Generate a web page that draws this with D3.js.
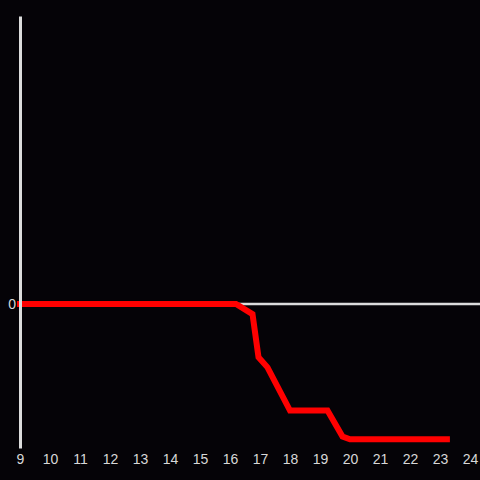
<!DOCTYPE html>
<html lang="en">
<head>
<meta charset="UTF-8">
<style>
    body { margin: 0; background: #050307; }
    .tick text { font-family: "Liberation Sans", Arial, sans-serif; font-size: 14px; fill: #d8d8d8; }
</style>
<title>chart</title>
</head>
<body>
<div id="chart"></div>
<script src="https://cdn.jsdelivr.net/npm/d3@7"></script>
<script>
var width = 480, height = 480;

// hours and values
var hours  = [8.9, 16.2, 16.75, 16.95, 17.25, 18.0, 19.25, 19.75, 20.0, 23.33];
var values = [0, 0, -0.07, -0.37, -0.44, -0.74, -0.74, -0.92, -0.94, -0.94];
var xTicks = [9, 10, 11, 12, 13, 14, 15, 16, 17, 18, 19, 20, 21, 22, 23, 24];
var yTicks = [0];

var svg = d3.select("#chart").append("svg")
    .attr("width", width)
    .attr("height", height)
    .style("background", "#050307");

var x = d3.scaleLinear().domain([9, 24]).range([20, 470]);
var y = d3.scaleLinear().domain([-1, 2]).range([448, 16]);

// zero line
svg.append("line")
    .attr("x1", x(9)).attr("x2", 480)
    .attr("y1", y(0)).attr("y2", y(0))
    .attr("stroke", "#dcdcdc")
    .attr("stroke-width", 2.5);

// red series
var data = hours.map(function (h, i) { return [h, values[i]]; });
svg.append("path")
    .datum(data)
    .attr("fill", "none")
    .attr("stroke", "#ff0000")
    .attr("stroke-width", 6)
    .attr("stroke-linejoin", "miter")
    .attr("d", d3.line().x(function (d) { return x(d[0]); }).y(function (d) { return y(d[1]); }));

// y axis
var yAxis = svg.append("g")
    .attr("transform", "translate(" + x(9) + ",0)")
    .call(d3.axisLeft(y).tickValues(yTicks).tickSize(0).tickPadding(4).tickFormat(d3.format("d")));
yAxis.select(".domain").attr("stroke", "#dcdcdc").attr("stroke-width", 3);

// x tick labels
var xAxis = svg.append("g")
    .attr("transform", "translate(0," + 448 + ")")
    .call(d3.axisBottom(x).tickValues(xTicks).tickSize(0).tickPadding(6).tickFormat(d3.format("d")));
xAxis.select(".domain").remove();
</script>
</body>
</html>
